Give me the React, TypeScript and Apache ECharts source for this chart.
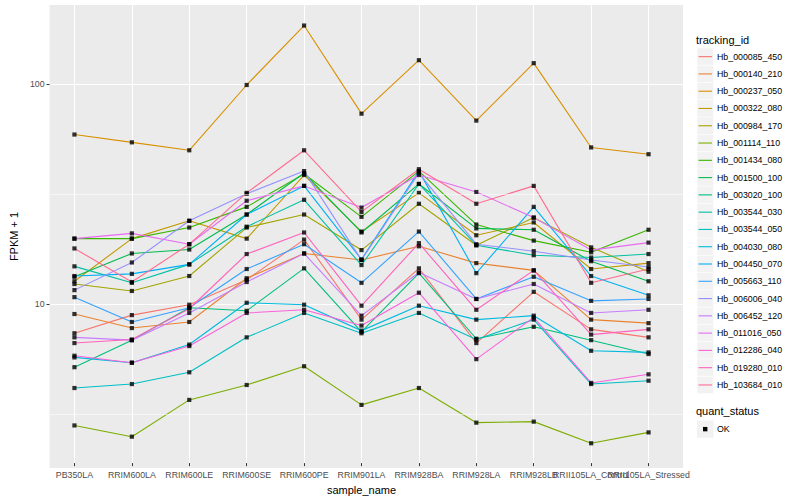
import React, { useEffect, useRef } from 'react';
import * as echarts from 'echarts';

const categories = [
  'PB350LA', 'RRIM600LA', 'RRIM600LE', 'RRIM600SE', 'RRIM600PE', 'RRIM901LA',
  'RRIM928BA', 'RRIM928LA', 'RRIM928LB', 'RRII105LA_Control', 'RRII105LA_Stressed',
];

const trackingIds = [
  'Hb_000085_450', 'Hb_000140_210', 'Hb_000237_050', 'Hb_000322_080', 'Hb_000984_170',
  'Hb_001114_110', 'Hb_001434_080', 'Hb_001500_100', 'Hb_003020_100', 'Hb_003544_030',
  'Hb_003544_050', 'Hb_004030_080', 'Hb_004450_070', 'Hb_005663_110', 'Hb_006006_040',
  'Hb_006452_120', 'Hb_011016_050', 'Hb_012286_040', 'Hb_019280_010', 'Hb_103684_010',
];

const colors = [
  '#F8766D', '#EA8331', '#D89000', '#C09B00', '#A3A500',
  '#7CAE00', '#39B600', '#00BB4E', '#00BF7D', '#00C1A3',
  '#00BFC4', '#00BAE0', '#00B0F6', '#35A2FF', '#9590FF',
  '#C77CFF', '#E76BF3', '#FA62DB', '#FF62BC', '#FF6C91',
];

// FPKM + 1 per sample, in category order
const hb000085_450 = [7.1, 8.6, 9.6, 12.5, 19.1, 8.2, 14.1, 6.4, 11.0, 7.4, 6.8];
const hb000140_210 = [8.7, 7.5, 8.0, 12.7, 16.5, 15.4, 17.8, 14.9, 13.8, 8.2, 7.9];
const hb000237_050 = [58.0, 53.4, 49.1, 97.9, 183.5, 72.3, 127.2, 67.2, 123.3, 50.6, 47.1];
const hb000322_080 = [12.3, 19.3, 23.3, 19.3, 37.8, 20.8, 31.3, 20.0, 22.9, 14.0, 14.9];
const hb000984_170 = [11.95, 11.1, 13.0, 21.7, 24.9, 17.1, 27.9, 18.0, 24.1, 17.6, 13.6];
const hb001114_110 = [2.68, 2.38, 3.51, 4.11, 5.01, 3.33, 3.98, 2.76, 2.79, 2.22, 2.49];
const hb001434_080 = [19.3, 19.3, 21.7, 27.0, 38.2, 24.3, 39.4, 22.4, 18.9, 16.7, 21.2];
const hb001500_100 = [12.9, 16.5, 17.2, 24.9, 38.6, 20.6, 34.4, 21.5, 21.2, 15.2, 12.3];
const hb003020_100 = [4.96, 6.6, 9.3, 9.0, 14.1, 7.2, 13.4, 6.7, 7.6, 6.6, 5.7];
const hb003544_030 = [14.4, 12.1, 14.7, 21.9, 29.1, 14.6, 34.4, 18.0, 16.2, 15.8, 16.4];
const hb003544_050 = [3.98, 4.15, 4.7, 6.8, 8.8, 7.1, 8.8, 6.65, 8.2, 4.15, 4.3];
const hb004030_080 = [5.5, 5.2, 6.3, 9.8, 9.6, 7.3, 9.5, 8.2, 8.55, 5.9, 5.8];
const hb004450_070 = [13.0, 13.3, 14.7, 24.9, 33.7, 15.5, 39.4, 13.4, 27.0, 13.0, 10.6];
const hb005663_110 = [10.4, 8.0, 9.3, 14.0, 18.2, 12.1, 20.8, 10.2, 12.9, 10.0, 10.2];
const hb006006_040 = [11.2, 15.0, 23.3, 31.0, 39.4, 15.4, 38.6, 18.2, 16.9, 15.4, 14.3];
const hb006452_120 = [6.8, 6.6, 8.8, 12.2, 16.5, 8.55, 13.5, 10.2, 11.95, 8.8, 9.1];
const hb011016_050 = [19.3, 20.4, 18.2, 28.8, 33.7, 26.8, 37.8, 31.6, 24.1, 17.1, 18.5];
const hb012286_040 = [5.6, 5.2, 6.2, 8.8, 9.1, 7.7, 10.9, 5.4, 8.4, 4.2, 4.6];
const hb019280_010 = [6.4, 6.65, 9.2, 16.4, 20.6, 9.5, 18.4, 9.1, 13.8, 7.0, 7.4];
const hb103684_010 = [17.4, 12.2, 18.2, 31.3, 49.1, 25.6, 40.2, 27.9, 33.7, 12.1, 14.0];

const seriesValues = [
  hb000085_450, hb000140_210, hb000237_050, hb000322_080, hb000984_170,
  hb001114_110, hb001434_080, hb001500_100, hb003020_100, hb003544_030,
  hb003544_050, hb004030_080, hb004450_070, hb005663_110, hb006006_040,
  hb006452_120, hb011016_050, hb012286_040, hb019280_010, hb103684_010,
];

const yTicks = [10, 100];
const yMinorBreaks = [3.1623, 31.623];
const yRange = [1.8, 228];
const quantStatus = ['OK'];

export default function App() {
  const ref = useRef<HTMLDivElement>(null);

  useEffect(() => {
    const chart = echarts.init(ref.current as HTMLDivElement, null, { renderer: 'svg' });
    const font = '"Liberation Sans", Arial, Helvetica, sans-serif';
    const panel = { left: 40, top: 5, width: 643, height: 463 };
    const unit = panel.width / (categories.length - 1 + 1.2);
    const inset = unit * 0.6;

    const lineSeries = trackingIds.map((id, i) => ({
      name: id,
      type: 'line',
      xAxisIndex: 1,
      yAxisIndex: 1,
      data: seriesValues[i],
      symbol: 'none',
      silent: true,
      z: 3,
      lineStyle: { color: colors[i], width: 1.1 },
      itemStyle: { color: colors[i] },
    }));

    const pointData: number[][] = [];
    seriesValues.forEach((vals) => vals.forEach((v, j) => pointData.push([j, v])));

    const legendTop = 48;
    const keySize = 17.28;
    const legendGraphics: any[] = [];
    legendGraphics.push({
      type: 'text', left: 696, top: 34,
      style: { text: 'tracking_id', fontSize: 11, fill: '#000', fontFamily: font },
    });
    trackingIds.forEach((id, i) => {
      const y = legendTop + keySize * i;
      legendGraphics.push({
        type: 'rect', shape: { x: 697, y, width: 16.5, height: keySize },
        style: { fill: '#F2F2F2', stroke: '#FFFFFF', lineWidth: 0.5 },
      });
      legendGraphics.push({
        type: 'line', shape: { x1: 698.5, y1: y + keySize / 2, x2: 712, y2: y + keySize / 2 },
        style: { stroke: colors[i], lineWidth: 1.1 },
      });
      legendGraphics.push({
        type: 'text', x: 717, y: y + keySize / 2,
        style: { text: id, fontSize: 8.8, fill: '#000', fontFamily: font, verticalAlign: 'middle' },
      });
    });
    const qTop = 405;
    legendGraphics.push({
      type: 'text', left: 696, top: qTop,
      style: { text: 'quant_status', fontSize: 11, fill: '#000', fontFamily: font },
    });
    quantStatus.forEach((q, i) => {
      const y = 420.5 + keySize * i;
      legendGraphics.push({
        type: 'rect', shape: { x: 697, y, width: 16.5, height: keySize },
        style: { fill: '#F2F2F2' },
      });
      legendGraphics.push({
        type: 'rect', shape: { x: 703, y: y + keySize / 2 - 2.2, width: 4.4, height: 4.4 },
        style: { fill: '#000' },
      });
      legendGraphics.push({
        type: 'text', x: 717, y: y + keySize / 2,
        style: { text: q, fontSize: 8.8, fill: '#000', fontFamily: font, verticalAlign: 'middle' },
      });
    });

    chart.setOption({
      animation: false,
      backgroundColor: '#FFFFFF',
      textStyle: { fontFamily: font },
      grid: [
        {
          left: panel.left, top: panel.top, width: panel.width, height: panel.height,
          show: true, backgroundColor: '#EBEBEB', borderWidth: 0, containLabel: false,
        },
        {
          left: panel.left + inset, top: panel.top, width: panel.width - 2 * inset, height: panel.height,
          containLabel: false,
        },
      ],
      xAxis: [
        { type: 'value', gridIndex: 0, min: 0, max: 1, show: false },
        {
          type: 'category', gridIndex: 1, data: categories, boundaryGap: false,
          name: 'sample_name', nameLocation: 'middle', nameGap: 15,
          nameTextStyle: { fontSize: 11, color: '#000', fontFamily: font },
          axisLine: { show: false },
          axisTick: { show: true, length: 3, interval: 0, lineStyle: { color: '#333333', width: 1 } },
          axisLabel: { interval: 0, fontSize: 8.8, color: '#4D4D4D', margin: 7, fontFamily: font },
          splitLine: { show: true, interval: 0, lineStyle: { color: '#FFFFFF', width: 1.07 } },
        },
      ],
      yAxis: [
        {
          type: 'log', logBase: 10, gridIndex: 0, min: yRange[0], max: yRange[1],
          name: 'FPKM + 1', nameLocation: 'middle', nameGap: 23, nameRotate: 90,
          nameTextStyle: { fontSize: 11, color: '#000', fontFamily: font },
          axisLine: { show: false },
          axisTick: { show: true, length: 3, customValues: yTicks, lineStyle: { color: '#333333', width: 1 } },
          axisLabel: { fontSize: 8.8, color: '#4D4D4D', margin: 5, customValues: yTicks, fontFamily: font },
          splitLine: { show: true, lineStyle: { color: '#FFFFFF', width: 1.07 } },
        },
        {
          type: 'log', logBase: 10, gridIndex: 1, min: yRange[0], max: yRange[1], show: false,
          splitLine: { show: false },
        },
      ],
      graphic: legendGraphics,
      series: [
        {
          type: 'line', xAxisIndex: 0, yAxisIndex: 0, data: [[0.5, 10]], symbol: 'none',
          lineStyle: { opacity: 0 }, silent: true, z: 1,
          markLine: {
            silent: true, symbol: ['none', 'none'], label: { show: false },
            lineStyle: { color: '#FFFFFF', width: 0.55, type: 'solid' },
            data: yMinorBreaks.map((v) => ({ yAxis: v })),
          },
        },
        ...lineSeries,
        {
          name: 'OK', type: 'scatter', xAxisIndex: 1, yAxisIndex: 1, data: pointData,
          symbol: 'rect', symbolSize: 4.2, silent: true, z: 4,
          itemStyle: { color: '#000000' },
        },
      ],
    });

    return () => chart.dispose();
  }, []);

  return (
    <div
      ref={ref}
      style={{ position: 'absolute', left: 0, top: 0, width: 800, height: 500, background: '#fff' }}
    />
  );
}
